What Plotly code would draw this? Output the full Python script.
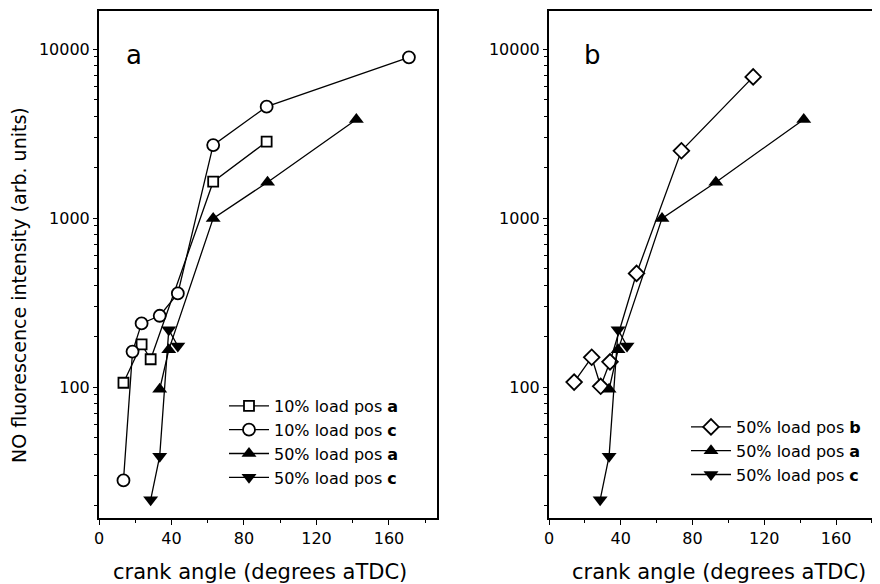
import plotly.graph_objects as go

# ---------------- data ----------------
# Panel a
sq10a_x = [13.5, 23.5, 28.5, 63, 92.5]
sq10a_y = [106, 179, 146, 1640, 2830]
ci10c_x = [13.5, 18.5, 23.5, 33.5, 43.5, 63, 92.5, 171]
ci10c_y = [28, 162, 238, 264, 358, 2700, 4560, 8930]
up50a_x = [33.5, 38.5, 63, 93, 142]
up50a_y = [97, 166, 995, 1630, 3830]
dn50c_x = [28.5, 33.5, 38.5, 43.5]
dn50c_y = [21.5, 39, 218, 175]
# Panel b
di50b_x = [14, 23.8, 28.8, 34, 48.8, 73.8, 113.8]
di50b_y = [107, 150, 101, 141, 470, 2500, 6840]

x_ticks = [0, 40, 80, 120, 160]
x_minor = [20, 60, 100, 140, 180]
y_ticks = [100, 1000, 10000]
y_tick_text = ["100", "1000", "10000"]
y_minor = [m * d for d in (10, 100, 1000) for m in range(2, 10)]

FONT = "DejaVu Sans"
# page body has an 8px margin: the figure occupies the window from (8, 8)
OX, OY = 8, 8
W, H = 880 - OX, 584 - OY

def px_x(p):
    return (p - OX) / W

def px_y(p):
    return 1 - (p - OY) / H

fig = go.Figure()

line = dict(color="black", width=1.3)
open_m = dict(color="white", line=dict(color="black", width=1.8))

fig.add_trace(go.Scatter(x=sq10a_x, y=sq10a_y, mode="lines+markers", name="10% load pos <b>a</b>",
                         line=line, marker=dict(symbol="square", size=10, **open_m),
                         xaxis="x", yaxis="y", legend="legend"))
fig.add_trace(go.Scatter(x=ci10c_x, y=ci10c_y, mode="lines+markers", name="10% load pos <b>c</b>",
                         line=line, marker=dict(symbol="circle", size=12, **open_m),
                         xaxis="x", yaxis="y", legend="legend"))
fig.add_trace(go.Scatter(x=up50a_x, y=up50a_y, mode="lines+markers", name="50% load pos <b>a</b>",
                         line=line, marker=dict(symbol="triangle-up", size=13, color="black"),
                         xaxis="x", yaxis="y", legend="legend"))
fig.add_trace(go.Scatter(x=dn50c_x, y=dn50c_y, mode="lines+markers", name="50% load pos <b>c</b>",
                         line=line, marker=dict(symbol="triangle-down", size=13, color="black"),
                         xaxis="x", yaxis="y", legend="legend"))

fig.add_trace(go.Scatter(x=di50b_x, y=di50b_y, mode="lines+markers", name="50% load pos <b>b</b>",
                         line=line, marker=dict(symbol="diamond", size=12, **open_m),
                         xaxis="x2", yaxis="y2", legend="legend2"))
fig.add_trace(go.Scatter(x=up50a_x, y=up50a_y, mode="lines+markers", name="50% load pos <b>a</b>",
                         line=line, marker=dict(symbol="triangle-up", size=13, color="black"),
                         xaxis="x2", yaxis="y2", legend="legend2"))
fig.add_trace(go.Scatter(x=dn50c_x, y=dn50c_y, mode="lines+markers", name="50% load pos <b>c</b>",
                         line=line, marker=dict(symbol="triangle-down", size=13, color="black"),
                         xaxis="x2", yaxis="y2", legend="legend2"))

tickfont = dict(family=FONT, size=16, color="black")

def xax(domain, rng, mirror):
    return dict(domain=domain, range=rng, tickvals=x_ticks, ticks="outside", ticklen=5, tickwidth=1.3,
                tickcolor="black", showline=True, linecolor="black", linewidth=2, mirror=mirror,
                showgrid=False, zeroline=False, tickfont=tickfont, automargin=False,
                minor=dict(tickvals=x_minor, ticks="outside", ticklen=3, tickwidth=1, tickcolor="black"))

def yax(anchor, mirror):
    return dict(domain=[px_y(518), px_y(11)], type="log", range=[1.225, 4.225], anchor=anchor,
                tickvals=y_ticks, ticktext=y_tick_text, ticks="outside", ticklen=4, tickwidth=1.3,
                tickcolor="black", showline=True, linecolor="black", linewidth=2, mirror=mirror,
                showgrid=False, zeroline=False, tickfont=tickfont, automargin=False,
                minor=dict(tickvals=y_minor, ticks="outside", ticklen=3, tickwidth=1, tickcolor="black"))

fig.update_layout(
    width=W, height=H,
    margin=dict(l=0, r=0, t=0, b=0),
    paper_bgcolor="white", plot_bgcolor="white",
    font=dict(family=FONT, color="black"),
    xaxis=xax([px_x(99), px_x(437)], [0, 186.5], True) | dict(anchor="y"),
    yaxis=yax("x", True),
    xaxis2=xax([px_x(549), 1.0], [0, 184.5], True) | dict(anchor="y2"),
    yaxis2=yax("x2", False),
    legend=dict(x=px_x(224), y=px_y(389), xanchor="left", yanchor="top",
                font=dict(family=FONT, size=16, color="black"), bgcolor="rgba(0,0,0,0)",
                itemwidth=40, tracegroupgap=0),
    legend2=dict(x=px_x(686), y=px_y(410), xanchor="left", yanchor="top",
                 font=dict(family=FONT, size=16, color="black"), bgcolor="rgba(0,0,0,0)",
                 itemwidth=40, tracegroupgap=0),
    showlegend=True,
)

annots = [
    dict(text="a", x=px_x(134), y=px_y(55), font=dict(family=FONT, size=26)),
    dict(text="b", x=px_x(592), y=px_y(55), font=dict(family=FONT, size=26)),
    dict(text="crank angle (degrees aTDC)", x=px_x(260), y=px_y(572), font=dict(family=FONT, size=21)),
    dict(text="crank angle (degrees aTDC)", x=px_x(719), y=px_y(572), font=dict(family=FONT, size=21)),
    dict(text="NO fluorescence intensity (arb. units)", x=px_x(19), y=px_y(285), textangle=-90,
         font=dict(family=FONT, size=19)),
]
for a in annots:
    fig.add_annotation(xref="paper", yref="paper", showarrow=False, xanchor="center", yanchor="middle",
                       **{k: v for k, v in a.items() if k not in ("font",)},
                       font=dict(color="black", **a["font"]))

fig.write_html("out.html")
